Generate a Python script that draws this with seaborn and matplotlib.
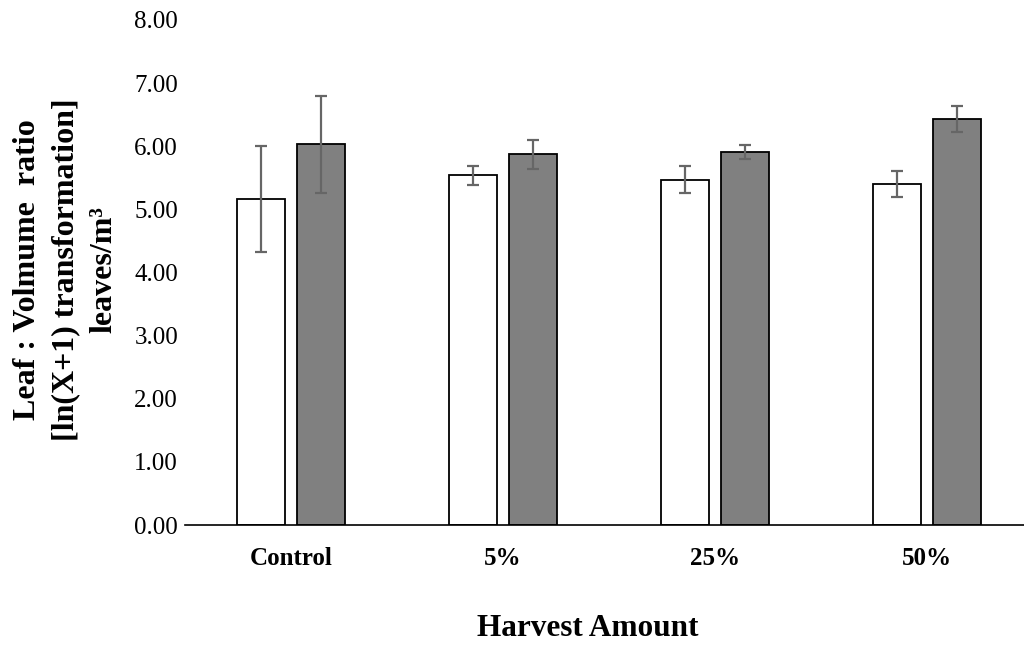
import pandas as pd
import matplotlib
matplotlib.use("Agg")
import matplotlib.pyplot as plt
import seaborn as sns

# values
categories = ["Control", "5%", "25%", "50%"]
groups = ["A", "B"]
means_a = [5.17, 5.54, 5.47, 5.40]
err_a = [0.84, 0.155, 0.21, 0.20]
means_b = [6.03, 5.87, 5.91, 6.43]
err_b = [0.77, 0.23, 0.11, 0.21]
y_ticks = [0, 1, 2, 3, 4, 5, 6, 7, 8]

df = pd.DataFrame({
    "Harvest": categories * 2,
    "Group": [groups[0]] * 4 + [groups[1]] * 4,
    "Value": means_a + means_b,
})

sns.set_theme(style="white")
plt.rcParams["font.family"] = ["Liberation Serif", "DejaVu Serif"]
plt.rcParams["text.color"] = "black"

fig = plt.figure(figsize=(10.24, 6.45), dpi=100)
ax = fig.add_axes([185 / 1024, 120 / 645, 848 / 1024, 505 / 645])

sns.barplot(data=df, x="Harvest", y="Value", hue="Group", order=categories,
            hue_order=groups, palette=["white", "#808080"], width=0.566, gap=0.2,
            edgecolor="black", linewidth=1.3, errorbar=None, legend=False, ax=ax)

# error bars placed on the bars seaborn drew
bars = sorted(ax.patches, key=lambda p: p.get_x())
errs = [e for pair in zip(err_a, err_b) for e in pair]
for bar, e in zip(bars, errs):
    xc = bar.get_x() + bar.get_width() / 2
    ax.errorbar(xc, bar.get_height(), yerr=e, fmt="none", ecolor="#666666",
                elinewidth=1.6, capsize=4.3, capthick=1.6, zorder=5)

ax.set_xlim(-0.5, 3.5)
ax.set_ylim(0, 8)
ax.set_yticks(y_ticks)
ax.set_yticklabels([f"{v:.2f}" for v in y_ticks])
ax.set_xlabel("")
ax.set_ylabel("")

for side in ["left", "top", "right"]:
    ax.spines[side].set_visible(False)
ax.spines["bottom"].set_color("black")
ax.spines["bottom"].set_linewidth(1.2)

ax.tick_params(axis="y", length=0, pad=5, labelsize=18, labelcolor="black")
ax.tick_params(axis="x", length=0, pad=16, labelsize=18, labelcolor="black")
for lab in ax.get_xticklabels():
    lab.set_fontweight("bold")

fig.text(588 / 1024, 1 - 628 / 645, "Harvest Amount", ha="center", va="center",
         fontsize=22.5, fontweight="bold", color="black")
fig.text(66 / 1024, 1 - 270 / 645,
         "Leaf : Volmume  ratio\n[ln(X+1) transformation]\nleaves/m\u00b3",
         ha="center", va="center", rotation=90, multialignment="center",
         fontsize=23, fontweight="bold", linespacing=1.42, color="black")

plt.savefig("out.png", dpi=100)
plt.close()
